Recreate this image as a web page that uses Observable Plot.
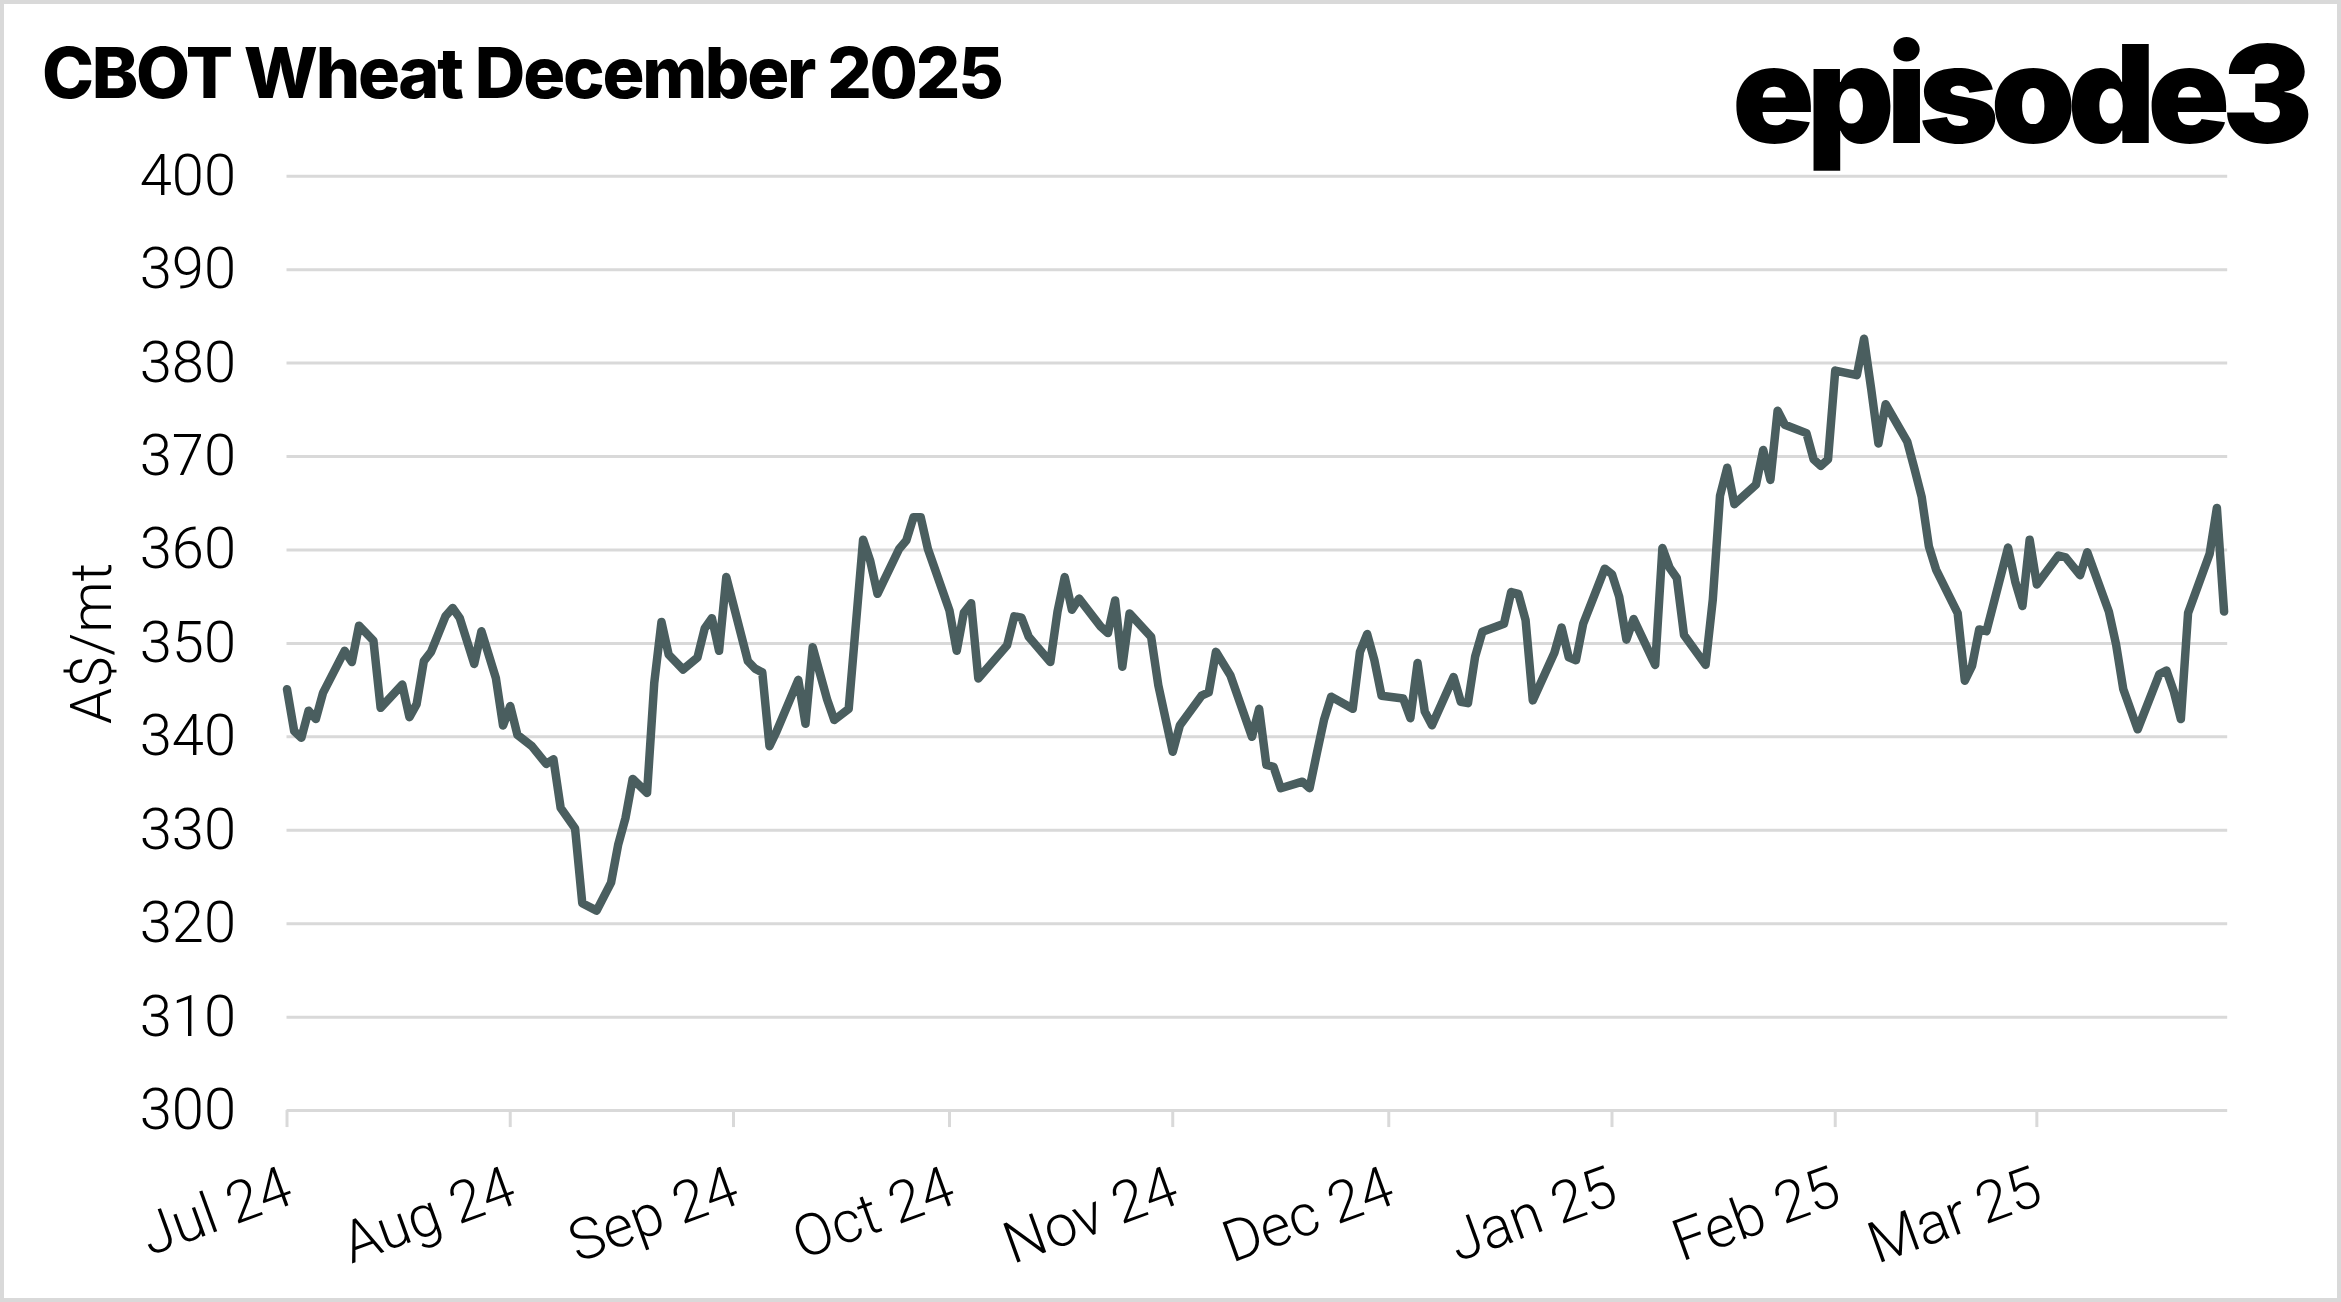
<!DOCTYPE html>
<html><head><meta charset="utf-8">
<script src="https://cdn.jsdelivr.net/npm/d3@7"></script>
<script src="https://cdn.jsdelivr.net/npm/@observablehq/plot@0.6"></script>
<style>
html,body{margin:0;padding:0;background:#fff;}
#wrap{position:relative;width:2341px;height:1302px;box-sizing:border-box;border:4px solid #d9d9d9;overflow:hidden;background:#fff;}
#chart{position:absolute;left:-4px;top:-4px;}
#title{position:absolute;left:38px;top:34px;font-family:Inter,"Noto Sans",sans-serif;font-weight:800;font-size:70px;line-height:1;color:#000;white-space:nowrap;letter-spacing:-2.25px;}
#logo{position:absolute;right:32px;top:22px;font-family:Inter,"Noto Sans",sans-serif;font-weight:900;font-size:136px;line-height:1;color:#000;white-space:nowrap;letter-spacing:-8px;}
</style></head>
<body>
<div id="wrap">
<div id="chart"></div>
<div id="title">CBOT Wheat December 2025</div>
<div id="logo">episode3</div>
</div>
<script>
const dates = [
"2024-07-01","2024-07-02","2024-07-03","2024-07-04","2024-07-05","2024-07-06","2024-07-09","2024-07-10","2024-07-11","2024-07-13",
"2024-07-14","2024-07-17","2024-07-18","2024-07-19","2024-07-20","2024-07-21","2024-07-23","2024-07-24","2024-07-25","2024-07-27",
"2024-07-28","2024-07-30","2024-07-31","2024-08-01","2024-08-02","2024-08-04","2024-08-06","2024-08-07","2024-08-08","2024-08-10",
"2024-08-11","2024-08-13","2024-08-15","2024-08-16","2024-08-17","2024-08-18","2024-08-20","2024-08-21","2024-08-22","2024-08-23",
"2024-08-25","2024-08-27","2024-08-28","2024-08-29","2024-08-30","2024-08-31","2024-09-03","2024-09-04","2024-09-05","2024-09-06",
"2024-09-07","2024-09-10","2024-09-11","2024-09-12","2024-09-14","2024-09-15","2024-09-17","2024-09-19","2024-09-20","2024-09-21",
"2024-09-24","2024-09-25","2024-09-26","2024-09-27","2024-09-28","2024-10-01","2024-10-02","2024-10-03","2024-10-04","2024-10-05",
"2024-10-09","2024-10-10","2024-10-11","2024-10-12","2024-10-15","2024-10-16","2024-10-17","2024-10-18","2024-10-19","2024-10-22",
"2024-10-23","2024-10-24","2024-10-25","2024-10-26","2024-10-29","2024-10-30","2024-11-01","2024-11-02","2024-11-05","2024-11-06",
"2024-11-07","2024-11-09","2024-11-12","2024-11-13","2024-11-14","2024-11-15","2024-11-16","2024-11-19","2024-11-20","2024-11-21",
"2024-11-22","2024-11-23","2024-11-26","2024-11-27","2024-11-28","2024-11-29","2024-11-30","2024-12-03","2024-12-04","2024-12-05",
"2024-12-06","2024-12-07","2024-12-10","2024-12-11","2024-12-12","2024-12-13","2024-12-14","2024-12-17","2024-12-18","2024-12-19",
"2024-12-20","2024-12-21","2024-12-24","2024-12-25","2024-12-26","2024-12-27","2024-12-28","2024-12-31","2025-01-01","2025-01-02",
"2025-01-03","2025-01-04","2025-01-07","2025-01-08","2025-01-09","2025-01-10","2025-01-11","2025-01-14","2025-01-15","2025-01-16",
"2025-01-17","2025-01-18","2025-01-21","2025-01-22","2025-01-23","2025-01-24","2025-01-25","2025-01-28","2025-01-29","2025-01-30",
"2025-01-31","2025-02-01","2025-02-04","2025-02-05","2025-02-06","2025-02-07","2025-02-08","2025-02-11","2025-02-12","2025-02-13",
"2025-02-14","2025-02-15","2025-02-18","2025-02-19","2025-02-20","2025-02-21","2025-02-22","2025-02-25","2025-02-26","2025-02-27",
"2025-02-28","2025-03-01","2025-03-04","2025-03-05","2025-03-07","2025-03-08","2025-03-11","2025-03-12","2025-03-13","2025-03-15",
"2025-03-18","2025-03-19","2025-03-20","2025-03-21","2025-03-22","2025-03-25","2025-03-26","2025-03-27"
];
const prices = [
345.1,340.6,339.9,342.8,341.9,344.7,349.2,348.0,351.9,350.3,
343.1,345.6,342.1,343.5,348.1,349.1,352.9,353.8,352.7,347.8,
351.3,346.3,341.2,343.3,340.2,339.0,337.1,337.6,332.4,330.2,
322.2,321.4,324.4,328.5,331.3,335.5,334.0,345.8,352.3,348.8,
347.2,348.5,351.6,352.7,349.2,357.1,348.1,347.3,346.9,339.0,
340.6,346.1,341.4,349.6,344.0,341.8,343.0,361.1,358.8,355.3,
360.1,361.0,363.5,363.5,360.1,353.5,349.2,353.3,354.3,346.25,
349.8,352.9,352.75,350.7,348.0,353.4,357.1,353.6,354.8,351.8,
351.1,354.6,347.5,353.2,350.7,345.5,338.4,341.25,344.4,344.75,
349.1,346.6,340.0,343.0,337.0,336.8,334.5,335.2,334.5,338.2,
341.8,344.3,343.0,349.1,351.0,348.2,344.4,344.1,342.0,347.9,
342.7,341.25,346.4,343.75,343.6,348.6,351.25,352.1,355.5,355.3,
352.5,343.9,349.0,351.7,348.5,348.2,352.1,358.0,357.4,355.0,
350.4,352.6,347.7,360.2,358.1,357.0,350.9,347.7,354.7,365.8,
368.8,364.9,367.0,370.7,367.5,374.9,373.4,372.5,369.7,369.0,
369.7,379.2,378.7,382.6,377.2,371.4,375.6,371.6,368.7,365.7,
360.4,357.9,353.25,346.0,347.6,351.5,351.3,360.25,356.6,354.0,
361.1,356.3,359.4,359.2,357.3,359.75,353.4,349.9,345.1,340.8,
346.7,347.1,344.9,341.9,353.25,359.6,364.5,353.4
];
const yTicks = [300,310,320,330,340,350,360,370,380,390,400];
const monthTicks = ["2024-07-01","2024-08-01","2024-09-01","2024-10-01","2024-11-01","2024-12-01","2025-01-01","2025-02-01","2025-03-01"];
const monthLabels = ["Jul 24","Aug 24","Sep 24","Oct 24","Nov 24","Dec 24","Jan 25","Feb 25","Mar 25"];
const xDomain = ["2024-07-01","2025-03-27T12:00:00Z"];
const yLabel = "A$/mt";

const data = dates.map((d,i)=>({date:new Date(d), value:prices[i]}));
const tickDates = monthTicks.map(d=>new Date(d));
const ticks = monthTicks.map((d,i)=>({date:new Date(d), label:monthLabels[i]}));

const grid = "#d9d9d9";
const chart = Plot.plot({
  width: 2341, height: 1302,
  marginLeft: 287, marginRight: 110, marginTop: 176, marginBottom: 190,
  style: {fontFamily: "Roboto, 'Noto Sans', sans-serif", fontWeight: 300, fontSize: "57px", color: "#000", background: "transparent"},
  x: {type: "utc", domain: xDomain.map(d=>new Date(d)), axis: null},
  y: {domain: [300,400], axis: null},
  marks: [
    Plot.gridY(yTicks, {stroke: grid, strokeOpacity: 1, strokeWidth: 3}),
    Plot.axisX(tickDates, {tickSize: 17, stroke: grid, strokeWidth: 3, strokeOpacity: 1, tickFormat: () => "", label: null}),
    Plot.text(yTicks, {x: () => new Date(xDomain[0]), y: d => d, text: d => String(d), textAnchor: "end", dx: -51, fontSize: 58, fill: "#000"}),
    Plot.text(ticks, {x: "date", frameAnchor: "bottom", text: "label", rotate: -20, textAnchor: "end", lineAnchor: "middle", dx: 2, dy: 75, fontSize: 58, fill: "#000"}),
    Plot.text([yLabel], {frameAnchor: "left", dx: -195, rotate: -90, textAnchor: "middle", fontSize: 58, fill: "#000", text: d => d}),
    Plot.lineY(data, {x: "date", y: "value", stroke: "#4a5e5f", strokeWidth: 8.5, strokeLinejoin: "round", strokeLinecap: "round"})
  ]
});
document.getElementById("chart").appendChild(chart);
</script>
</body></html>
